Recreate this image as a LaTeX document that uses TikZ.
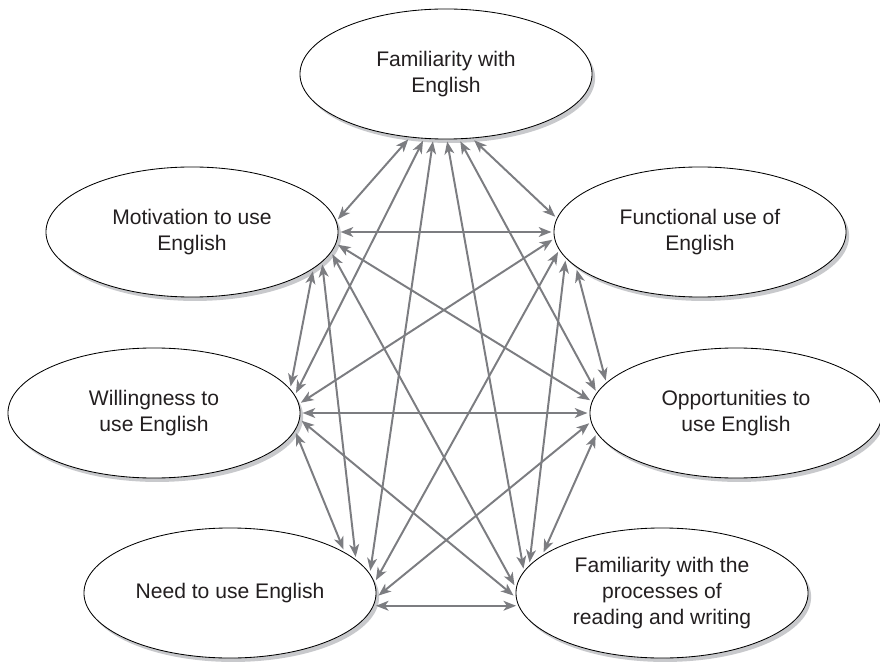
\documentclass[tikz,border=0pt]{standalone}
\usepackage{fontspec}
\setmainfont{Liberation Sans}
\usepackage{tikz}
\usetikzlibrary{shapes.geometric}
\usetikzlibrary{shadows}
\usetikzlibrary{arrows.meta}
\tikzset{>={Stealth[length=9pt, width=7pt, inset=2.5pt]}}
\definecolor{linkgray}{RGB}{124,125,129}
\definecolor{shadegray}{RGB}{200,201,204}
\definecolor{textgray}{RGB}{35,31,32}

\begin{document}
\begin{tikzpicture}[x=0.025cm, y=-0.025cm,
    oval/.style={ellipse, draw=black, line width=0.6pt, fill=white, text=textgray,
        minimum width=7.3cm, minimum height=3.25cm, inner sep=0pt, outer sep=1.8pt,
        align=center, font=\fontsize{15pt}{18.4pt}\selectfont,
        drop shadow={shadow xshift=2.2pt, shadow yshift=-2.8pt, fill=shadegray, opacity=1}},
    link/.style={<->, draw=linkgray, line width=1.4pt}]
    \useasboundingbox (0, 0) rectangle (880, 662);
    \node[oval] (fam) at (446, 74) {Familiarity with\\English};
    \node[oval] (mot) at (192, 232) {Motivation to use\\English};
    \node[oval] (fun) at (700, 232) {Functional use of\\English};
    \node[oval] (wil) at (154, 413) {Willingness to\\use English};
    \node[oval] (opp) at (736, 413) {Opportunities to\\use English};
    \node[oval] (need) at (230, 593) {Need to use English};
    \node[oval] (proc) at (662, 593) {Familiarity with the\\processes of\\reading and writing};
    % every pair is linked
    \draw[link] (fam.-120) -- (mot.5);
    \draw[link] (fam.-67) -- (fun.174);
    \draw[link] (fam.-109) -- (wil.8);
    \draw[link] (fam.-78) -- (opp.171);
    \draw[link] (fam.-101) -- (need.9);
    \draw[link] (fam.-89) -- (proc.170);
    \draw[link] (mot.0) -- (fun.180);
    \draw[link] (mot.-18) -- (wil.11.5);
    \draw[link] (mot.-5) -- (opp.175);
    \draw[link] (mot.-14) -- (need.16);
    \draw[link] (mot.-9) -- (proc.177);
    \draw[link] (fun.183) -- (wil.4);
    \draw[link] (fun.197) -- (opp.166);
    \draw[link] (fun.188) -- (need.5);
    \draw[link] (fun.192) -- (proc.167);
    \draw[link] (wil.0) -- (opp.180);
    \draw[link] (wil.-8.5) -- (need.21.5);
    \draw[link] (wil.-3.5) -- (proc.181);
    \draw[link] (opp.184) -- (need.-1);
    \draw[link] (opp.189.5) -- (proc.161);
    \draw[link] (need.-5) -- (proc.185);
\end{tikzpicture}
\end{document}
